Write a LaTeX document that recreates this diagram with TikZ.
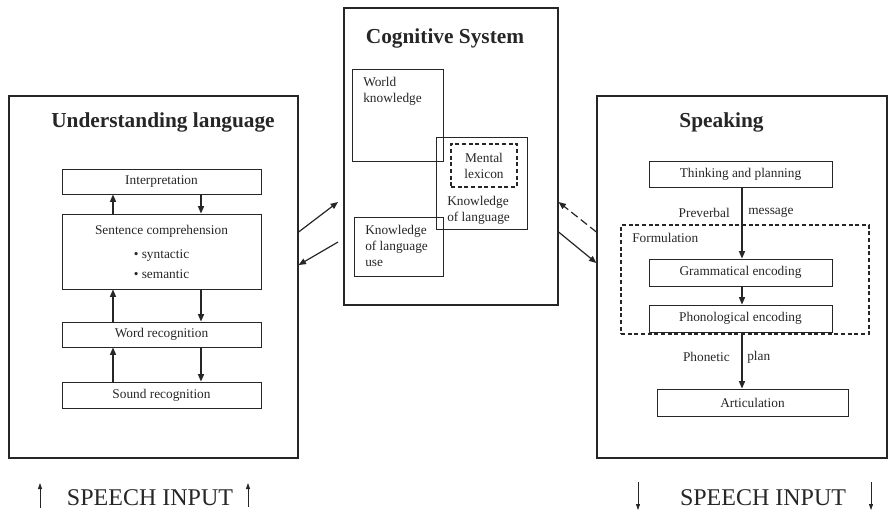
\documentclass[tikz,border=0pt]{standalone}
\usepackage{fontspec}
\setmainfont{Liberation Serif}
\usetikzlibrary{arrows.meta}
\newlength{\pxu}\setlength{\pxu}{0.75pt}

\begin{document}
\begin{tikzpicture}[x=0.75pt,y=-0.75pt,color=black!85,
  sized/.style 2 args={minimum width=#1\pxu,minimum height=#2\pxu},
  frame/.style={draw,line width=0.9pt,inner sep=0pt},
  stagebox/.style={draw,line width=0.7pt,inner sep=0pt,font=\fontsize{10}{12}\selectfont},
  dashbox/.style={draw,line width=0.8pt,dash pattern=on 3pt off 2pt,inner sep=0pt,font=\fontsize{10}{12}\selectfont},
  title/.style={font=\fontsize{16}{19}\selectfont\bfseries,inner sep=0pt},
  txt/.style={font=\fontsize{10}{12}\selectfont,inner sep=0pt,align=left},
  flow/.style={-{Triangle[length=5.5pt,width=4.5pt]},line width=0.9pt},
  tick/.style={-{Triangle[length=4.5pt,width=3pt]},line width=0.6pt}]
  \useasboundingbox (0,0) rectangle (888,515);

  % the three main blocks
  \node[frame,sized={289}{362}] (under) at (153.5,277) {};
  \node[frame,sized={214}{297}] (cog) at (451,156.5) {};
  \node[frame,sized={290}{362}] (speak) at (742,277) {};
  \node[title] (underT) at (163,122) {Understanding language};
  \node[title] (cogT) at (445,38) {Cognitive System};
  \node[title] (speakT) at (721.5,122) {Speaking};

  % understanding language
  \node[stagebox,sized={199}{25}] (interp) at (161.5,181.5) {Interpretation};
  \node[stagebox,sized={199}{75},align=center] (sent) at (161.5,251.5)
    {Sentence comprehension\\[6pt]\textbullet\ syntactic\\[3pt]\textbullet\ semantic};
  \node[stagebox,sized={199}{25}] (word) at (161.5,334.5) {Word recognition};
  \node[stagebox,sized={199}{26}] (sound) at (161.5,395) {Sound recognition};
  \coordinate (upL) at (113,0);
  \coordinate (dnL) at (201,0);
  \foreach \lo/\hi in {sent/interp,word/sent,sound/word} {
    \draw[flow] (\lo.north -| upL) -- (\hi.south -| upL);
    \draw[flow] (\hi.south -| dnL) -- (\lo.north -| dnL);
  }

  % cognitive system
  \node[stagebox,sized={91}{92}] (world) at (397.5,115) {};
  \node[stagebox,sized={91}{92}] (lang) at (481.5,183) {};
  \node[stagebox,sized={89}{59}] (use) at (398.5,246.5) {};
  \node[dashbox,sized={66}{43},align=center] (lex) at (484,165.5) {Mental\\lexicon};
  \node[txt,anchor=north west] (worldT) at (363,77) {World\\knowledge};
  \node[txt,anchor=north west] (langT) at (447,196) {Knowledge\\of language};
  \node[txt,anchor=north west] (useT) at (365,225) {Knowledge\\of language\\use};

  % speaking
  \node[stagebox,sized={183}{26}] (think) at (740.5,174) {Thinking and planning};
  \node[dashbox,sized={248}{109}] (form) at (745,279.5) {};
  \node[txt,anchor=west] (formT) at (632,238) {Formulation};
  \node[stagebox,sized={183}{27}] (gram) at (740.5,272.5) {Grammatical encoding};
  \node[stagebox,sized={183}{27}] (phon) at (740.5,318.5) {Phonological encoding};
  \node[stagebox,sized={191}{27}] (artic) at (752.5,402.5) {Articulation};
  \coordinate (spine) at (742,0);
  \draw[flow] (think.south -| spine) -- (gram.north -| spine);
  \draw[flow] (gram.south -| spine) -- (phon.north -| spine);
  \draw[flow] (phon.south -| spine) -- (artic.north -| spine);
  \node[txt,anchor=east] (preT) at (730,213) {Preverbal};
  \node[txt,anchor=west] (msgT) at (748,213) {message};
  \node[txt,anchor=east] (phonT) at (730,357) {Phonetic};
  \node[txt,anchor=west] (planT) at (747,357) {plan};

  % links between the blocks
  \coordinate (toCog) at (338,202);
  \coordinate (fromCog) at (338,242);
  \draw[flow] (under.east |- 0,232) -- (toCog);
  \draw[flow] (fromCog) -- (under.east |- 0,265);
  \draw[flow,dash pattern=on 6pt off 3pt] (speak.west |- 0,232) -- (cog.east |- 0,202);
  \draw[flow] (cog.east |- 0,232) -- (speak.west |- 0,263);

  % speech in / out
  \node[font=\fontsize{18}{21}\selectfont,inner sep=0pt] (inL) at (150,498) {SPEECH INPUT};
  \node[font=\fontsize{18}{21}\selectfont,inner sep=0pt] (inR) at (763,498) {SPEECH INPUT};
  \draw[tick] (40,508) -- (40,483);
  \draw[tick] (248,507) -- (248,483);
  \draw[tick] (638,482) -- (638,510);
  \draw[tick] (871,482) -- (871,510);
\end{tikzpicture}
\end{document}
